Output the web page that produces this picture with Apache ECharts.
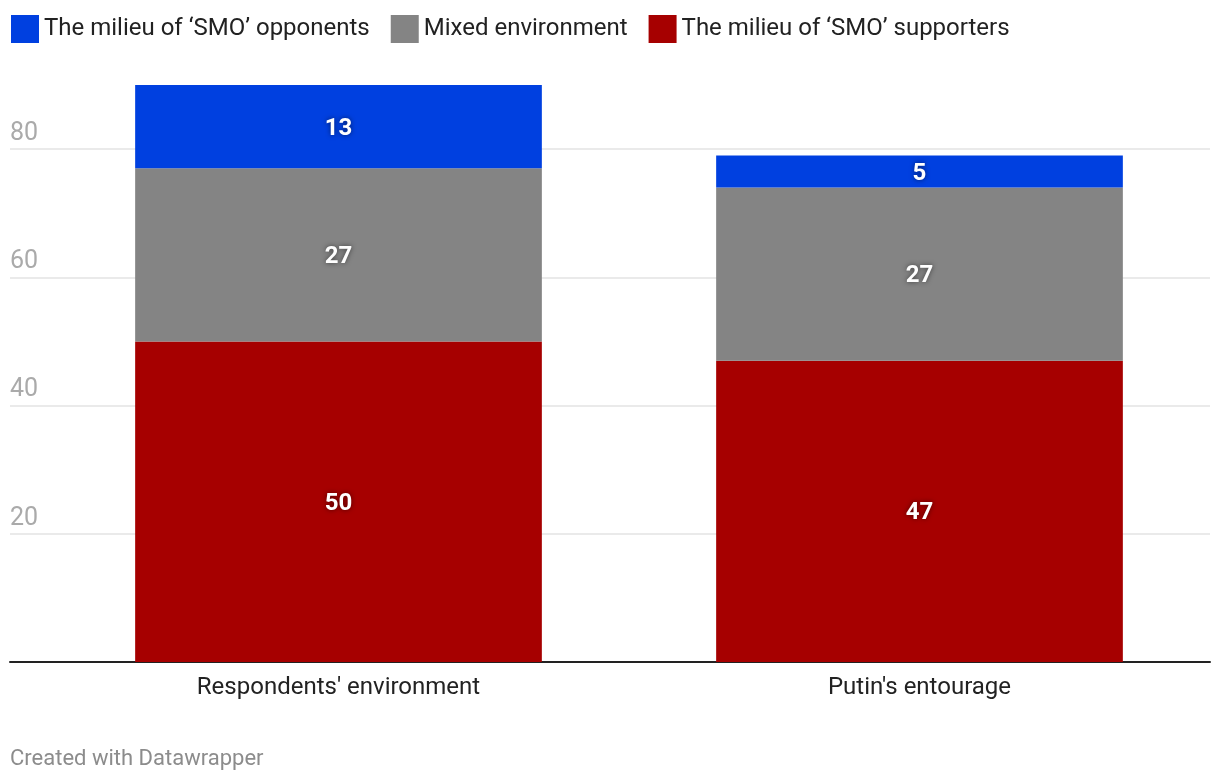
<!DOCTYPE html>
<html>
<head>
<meta charset="utf-8">
<script src="https://cdn.jsdelivr.net/npm/echarts@6/dist/echarts.min.js"></script>
<style>
html,body{margin:0;padding:0;background:#fff;}
#chart{width:1220px;height:784px;}
</style>
</head>
<body>
<div id="chart"></div>
<script>
const categories = ["Respondents' environment", "Putin's entourage"];
const opponents = [13, 5];
const mixed = [27, 27];
const supporters = [50, 47];
const seriesNames = ["The milieu of \u2018SMO\u2019 opponents", "Mixed environment", "The milieu of \u2018SMO\u2019 supporters"];
const yTicks = [20, 40, 60, 80];

const FONT = 'Roboto';
const chart = echarts.init(document.getElementById('chart'));

const labelStyle = {
  show: true,
  position: 'inside',
  offset: [0, 2],
  color: '#fff',
  fontFamily: FONT,
  fontWeight: 'bold',
  fontSize: 24,
  textShadowColor: 'rgba(0,0,0,0.55)',
  textShadowBlur: 5
};

function bar(name, data, color) {
  return {
    name: name, type: 'bar', stack: 'total', data: data,
    xAxisIndex: 1, yAxisIndex: 1,
    barWidth: '70%',
    itemStyle: { color: color },
    label: labelStyle,
    emphasis: { disabled: true }
  };
}

chart.setOption({
  animation: false,
  textStyle: { fontFamily: FONT },
  legend: {
    top: 10, left: 6,
    itemWidth: 28, itemHeight: 28, itemGap: 21,
    icon: 'rect',
    textStyle: { fontSize: 24, color: '#222', fontFamily: FONT },
    data: seriesNames
  },
  grid: [
    { left: 10, right: 10, top: 85, bottom: 122 },
    { left: 48, right: 10, top: 85, bottom: 122 }
  ],
  xAxis: [
    { gridIndex: 0, type: 'category', data: categories,
      axisLine: { show: true, lineStyle: { color: '#222', width: 2 } },
      axisTick: { show: false }, axisLabel: { show: false }, splitLine: { show: false } },
    { gridIndex: 1, type: 'category', data: categories,
      axisLine: { show: false }, axisTick: { show: false },
      axisLabel: { fontSize: 24, color: '#222', margin: 14, fontFamily: FONT } }
  ],
  yAxis: [
    { gridIndex: 0, type: 'value', min: 0, max: 90, interval: 20,
      axisLine: { show: false }, axisTick: { show: false },
      splitLine: { show: true, showMinLine: false, showMaxLine: false, lineStyle: { color: '#e3e3e3', width: 1.5 } },
      axisLabel: { inside: true, verticalAlign: 'bottom', margin: 0, padding: [0,0,3,0],
        fontSize: 25, color: '#aaaaaa', fontFamily: FONT,
        formatter: function (v) { return yTicks.indexOf(v) >= 0 ? String(v) : ''; } } },
    { gridIndex: 1, type: 'value', min: 0, max: 90, show: false }
  ],
  series: [
    bar(seriesNames[2], supporters, '#a60000'),
    bar(seriesNames[1], mixed, '#848484'),
    bar(seriesNames[0], opponents, '#0040e0')
  ],
  graphic: [{
    type: 'text', left: 10, top: 748,
    style: { text: 'Created with Datawrapper', fontSize: 22, fill: '#8c8c8c', fontFamily: FONT }
  }]
});
</script>
</body>
</html>
